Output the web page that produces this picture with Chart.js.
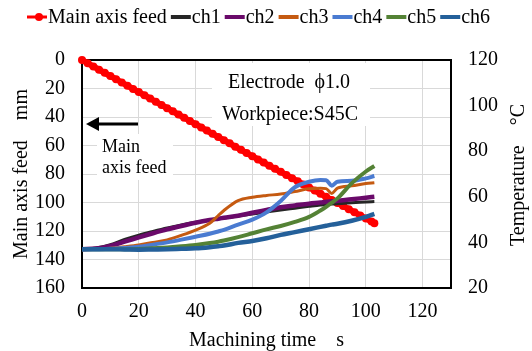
<!DOCTYPE html>
<html>
<head>
<meta charset="utf-8">
<script src="https://cdn.jsdelivr.net/npm/chart.js@4"></script>
<style>
  html, body { margin: 0; padding: 0; background: #fff; }
  #wrap { width: 532px; height: 351px; }
</style>
</head>
<body>
<div id="wrap"><canvas id="chart" width="532" height="351"></canvas></div>
<script>
/* feed of the main axis (mm) vs time (s) */
const feedTime = [0,2,4,6,8,10,12,14,16,18,20,22,24,26,28,30,32,34,36,38,40,42,44,46,48,50,52,54,56,58,60,62,64,66,68,70,72,74,76,78,80,82,84,86,88,90,92,94,96,98,100,102,103];
const feedMm = [0,2.3,4.5,6.8,9.0,11.3,13.5,15.8,18.0,20.3,22.5,24.8,27.0,29.3,31.5,33.8,36.0,38.3,40.5,42.8,45.0,47.3,49.5,51.8,54.0,56.3,58.5,60.8,63.0,65.3,67.5,69.8,72.0,74.2,76.4,78.5,80.7,82.9,85.1,87.3,89.4,91.6,93.8,96.0,98.2,100.3,102.5,104.7,106.9,109.1,111.2,113.4,114.5];

/* temperatures (°C) of the six channels */
const tempTime = [0,5,10,15,20,25,30,35,40,45,48,50,55,60,65,70,75,80,84,86,88,90,95,100,103];
const ch1 = [37,37.5,39,41.3,43.2,44.8,46.3,47.6,48.8,49.8,50.3,50.7,51.6,52.4,53.3,54.2,55,55.8,56.4,56.6,56.8,57,57.4,57.7,57.9];
const ch2 = [37,37.3,38.5,40.3,42.2,44,45.7,47.2,48.6,49.8,50.4,50.8,51.7,53,54.2,55.4,56.2,57,57.5,57.8,58,58.3,58.9,59.6,60];
const ch3 = [37,37,37.4,38.1,38.9,40,41.1,43.1,45.4,48.4,51.8,54,58.3,59.8,60.6,61.2,62.3,63.5,63.8,63.6,61.5,63.8,64.8,65.8,66.2];
const ch4 = [37,37,37.2,37.6,38.1,39,40,41.2,42.5,43.8,44.8,45.5,47.8,50,53.2,58.2,64.2,66.6,67.4,67.3,64.9,66.6,67,68.1,69.1];
const ch5 = [37,37,37,37,37.1,37.4,37.8,38.3,38.9,39.7,40.3,40.8,42.3,44,45.7,47.2,49,51.2,54,55.6,57.4,59.3,65.9,71.1,73.5];
const ch6 = [37,37,37,36.9,36.8,36.9,37,37.2,37.4,37.9,38.3,38.6,39.8,40.6,41.8,43.3,44.5,45.8,46.8,47.3,47.8,48.2,49.5,51.2,52.5];

const FONT = "'Liberation Serif', 'Times New Roman', serif";

function pts(xs, ys) { return xs.map((x, i) => ({x: x, y: ys[i]})); }

function tempSet(label, data, color, width, order) {
  return {
    label, data: pts(tempTime, data), yAxisID: "y2",
    borderColor: color, backgroundColor: color, borderWidth: width,
    pointRadius: 0, cubicInterpolationMode: "monotone", order
  };
}

/* frame, notes and white boxes behind them */
const decor = {
  id: "decor",
  beforeDatasetsDraw(chart) {
    const c = chart.ctx, a = chart.chartArea;
    c.save();
    c.fillStyle = "#fff";
    c.fillRect(212, 63, 158, 63);
    c.fillRect(97, 134, 76, 46);
    c.fillStyle = "#000";
    c.font = "20px " + FONT;
    c.textBaseline = "alphabetic";
    c.textAlign = "center";
    c.fillText("Electrode  \u03d51.0", 289, 88);
    c.fillText("Workpiece:S45C", 290, 120);
    c.textAlign = "left";
    c.font = "18px " + FONT;
    c.fillText("Main", 102, 152);
    c.fillText("axis feed", 102, 173);
    // arrow
    c.strokeStyle = "#000";
    c.lineWidth = 3;
    c.beginPath(); c.moveTo(138, 124); c.lineTo(96, 124); c.stroke();
    c.beginPath(); c.moveTo(86, 124); c.lineTo(99, 117); c.lineTo(99, 131); c.closePath(); c.fill();
    // plot frame
    c.lineWidth = 2;
    c.strokeRect(a.left, a.top, a.right - a.left, a.bottom - a.top);
    c.restore();
  },
  afterDraw(chart) {
    const c = chart.ctx;
    c.save();
    // right axis title, reading upwards
    c.font = "20px " + FONT;
    c.fillStyle = "#000";
    c.textAlign = "center";
    c.textBaseline = "middle";
    c.translate(519, 175);
    c.rotate(-Math.PI / 2);
    c.fillText("Temperature    \u00b0C", 0, 0);
    c.restore();

    // legend
    c.save();
    c.font = "20px " + FONT;
    c.textBaseline = "middle";
    c.textAlign = "left";
    let x = 27;
    const y = 17;
    chart.data.datasets.forEach((ds, i) => {
      c.strokeStyle = ds.borderColor;
      c.lineWidth = i === 0 ? 3 : 4;
      c.beginPath(); c.moveTo(x, y); c.lineTo(x + 20, y); c.stroke();
      if (i === 0) {
        c.fillStyle = ds.borderColor;
        c.beginPath(); c.arc(x + 12, y, 4, 0, Math.PI * 2); c.fill();
      }
      x += 21;
      c.fillStyle = "#000";
      c.fillText(ds.label, x, y + 1);
      x += c.measureText(ds.label).width + 4;
    });
    c.restore();
  }
};

new Chart(document.getElementById("chart"), {
  type: "line",
  data: {
    datasets: [
      {
        label: "Main axis feed", data: pts(feedTime, feedMm), yAxisID: "y",
        borderColor: "#ff0000", backgroundColor: "#ff0000", borderWidth: 6,
        pointRadius: 4, pointBorderWidth: 0, clip: false, order: 7
      },
      tempSet("ch1", ch1, "#262626", 3, 6),
      tempSet("ch2", ch2, "#6a0a6a", 4.5, 5),
      tempSet("ch3", ch3, "#c55a11", 3, 4),
      tempSet("ch4", ch4, "#4a7bd1", 4, 3),
      tempSet("ch5", ch5, "#548235", 4, 2),
      tempSet("ch6", ch6, "#24609a", 4.5, 1)
    ]
  },
  options: {
    responsive: false,
    animation: false,
    events: [],
    layout: { padding: { top: 60, left: 0, right: 0, bottom: 0 } },
    plugins: { legend: { display: false }, tooltip: { enabled: false } },
    scales: {
      x: {
        type: "linear", min: 0, max: 130,
        afterFit: s => { s.height = 63; },
        ticks: { stepSize: 20, includeBounds: false, padding: 12, color: "#000", font: { family: FONT, size: 20 } },
        grid: { color: "#d9d9d9", drawTicks: false },
        border: { display: false },
        title: { display: true, text: "Machining time    s", color: "#000", padding: { top: 0, bottom: 0 }, font: { family: FONT, size: 20, lineHeight: 1 } }
      },
      y: {
        position: "left", reverse: true, min: 0, max: 160,
        afterFit: s => { s.width = 82; },
        ticks: { stepSize: 20, padding: 17, color: "#000", font: { family: FONT, size: 20 } },
        grid: { color: "#d9d9d9", drawTicks: false },
        border: { display: false },
        title: { display: true, text: "Main axis feed    mm", color: "#000", padding: { top: 12, bottom: 0 }, font: { family: FONT, size: 20, lineHeight: 1 } }
      },
      y2: {
        position: "right", min: 20, max: 120,
        afterFit: s => { s.width = 81; },
        ticks: { stepSize: 20, padding: 17, color: "#000", font: { family: FONT, size: 20 } },
        grid: { display: false, drawTicks: false },
        border: { display: false }
      }
    }
  },
  plugins: [decor]
});
</script>
</body>
</html>
